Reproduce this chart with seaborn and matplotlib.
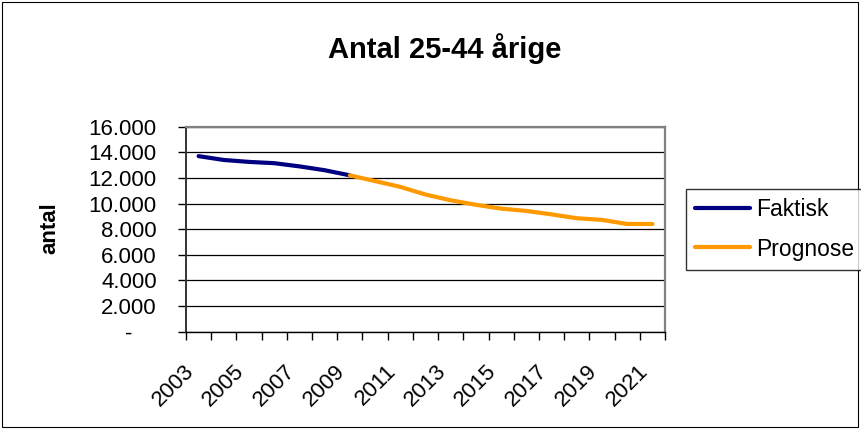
import matplotlib
matplotlib.use("Agg")
import matplotlib.pyplot as plt
import matplotlib.ticker as mticker
import matplotlib.transforms as mtrans
from matplotlib.patches import Rectangle
import numpy as np
import pandas as pd
import seaborn as sns

faktisk_years = [2003, 2004, 2005, 2006, 2007, 2008, 2009]
faktisk_vals = [13700, 13400, 13250, 13150, 12900, 12600, 12200]

prognose_years = list(range(2009, 2022))
prognose_vals = [12200, 11750, 11300, 10700, 10250, 9900, 9600, 9420, 9150, 8850, 8720, 8400, 8400]

label_years = list(range(2003, 2022, 2))

df = pd.concat([
    pd.DataFrame({"year": faktisk_years, "antal": faktisk_vals, "serie": "Faktisk"}),
    pd.DataFrame({"year": prognose_years, "antal": prognose_vals, "serie": "Prognose"}),
])

sns.set_style("white")
plt.rcParams["font.family"] = ["Liberation Sans", "DejaVu Sans"]
plt.rcParams["text.color"] = "black"
plt.rcParams["xtick.color"] = "black"
plt.rcParams["ytick.color"] = "black"

fig = plt.figure(figsize=(8.61, 4.29), dpi=100)
ax = fig.add_axes([186 / 861, 1 - 331.5 / 429, 479 / 861, 204.8 / 429])

sns.lineplot(data=df, x="year", y="antal", hue="serie",
             palette={"Faktisk": "#000080", "Prognose": "#FF9900"},
             linewidth=3, ax=ax, legend=False)

ax.set_xlim(2002.5, 2021.5)
ax.set_ylim(0, 16000)
ax.set_yticks(np.arange(0, 16001, 2000))
ax.yaxis.set_major_formatter(mticker.FuncFormatter(
    lambda v, p: "-\u2007\u2007" if v == 0 else f"{int(v):,}".replace(",", ".")))
ax.set_xticks(label_years)
ax.set_xticks(np.arange(2002.5, 2022, 1), minor=True)
ax.tick_params(axis="x", which="major", length=0, labelsize=16, pad=21, labelcolor="black")
ax.tick_params(axis="x", which="minor", length=6, width=1, direction="out", color="black", bottom=True)
ax.tick_params(axis="y", length=6, width=1, direction="out", color="black", left=True,
               labelsize=16, pad=15, labelcolor="black")
shift = mtrans.ScaledTranslation(-15 / 100, 0, fig.dpi_scale_trans)
for lbl in ax.get_xticklabels():
    lbl.set_rotation(45)
    lbl.set_ha("right")
    lbl.set_va("top")
    lbl.set_rotation_mode("anchor")
    lbl.set_transform(lbl.get_transform() + shift)

ax.grid(axis="y", color="black", linewidth=0.9)
ax.grid(axis="x", visible=False)
for s in ["top", "right"]:
    ax.spines[s].set_color("#808080")
    ax.spines[s].set_linewidth(1.6)
ax.spines["left"].set_color("#333333")
ax.spines["left"].set_linewidth(1.4)
ax.spines["bottom"].set_color("black")
ax.spines["bottom"].set_linewidth(1.0)

ax.set_xlabel("")
ax.set_ylabel("")
fig.text(50 / 861, 1 - 228 / 429, "antal", rotation=90, ha="center", va="center",
         fontsize=16, fontweight="bold", color="black")
fig.text(444.5 / 861, 1 - 58.3 / 429, "Antal 25-44 årige", ha="center", va="baseline",
         fontsize=21, fontweight="bold", color="black")

handles = [plt.Line2D([], [], color="#000080", linewidth=3),
           plt.Line2D([], [], color="#FF9900", linewidth=3)]
leg = fig.legend(handles, ["Faktisk", "Prognose"], loc="upper left",
                 bbox_to_anchor=(686 / 861, 1 - 189.3 / 429), fontsize=16.5, frameon=True,
                 fancybox=False, edgecolor="black", handlelength=2.4,
                 handletextpad=0.25, borderpad=0.4, labelspacing=0.7, borderaxespad=0)
leg.get_frame().set_linewidth(1.0)
for t in leg.get_texts():
    t.set_color("black")

fig.patches.append(Rectangle((0.002, 0.004), 0.995, 0.992, transform=fig.transFigure,
                             fill=False, edgecolor="black", linewidth=0.8))

fig.savefig("out.png", dpi=100)
